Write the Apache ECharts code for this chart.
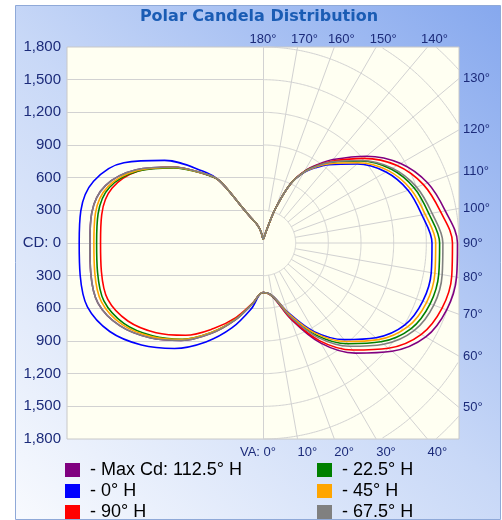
<!DOCTYPE html>
<html>
<head>
<meta charset="utf-8">
<title>Polar Candela Distribution</title>
<script src="https://cdn.jsdelivr.net/npm/echarts/dist/echarts.min.js"></script>
<style>
  html, body { margin: 0; padding: 0; background: #ffffff; }
  #main { width: 502px; height: 520px; }
</style>
</head>
<body>
<div id="main"></div>
<script>
// vertical angles (deg from nadir) the candela values are read at
const vAngles = [0, 10, 20, 30, 40, 50, 60, 70, 80, 90, 100, 110, 120, 130, 140, 145, 150, 155, 160, 165, 170, 175, 180];

// right half of each curve
const maxCdRight = [455, 500, 740, 1062, 1320, 1547, 1726, 1795, 1805, 1786, 1700, 1610, 1460, 1240, 1000, 880, 760, 600, 340, 110, 50, 38, 32];
const h0Right    = [455, 490, 681, 940, 1158, 1354, 1505, 1562, 1569, 1552, 1482, 1417, 1304, 1128, 940, 845, 745, 600, 340, 110, 50, 38, 32];
const h90Right   = [455, 498, 729, 1035, 1283, 1504, 1679, 1750, 1760, 1740, 1656, 1568, 1422, 1209, 980, 871, 756, 600, 340, 110, 50, 38, 32];
const h225Right  = [455, 495, 703, 977, 1208, 1412, 1571, 1633, 1639, 1622, 1547, 1478, 1358, 1172, 965, 862, 752, 600, 340, 110, 50, 38, 32];
const h45Right   = [455, 493, 692, 956, 1181, 1381, 1536, 1598, 1603, 1586, 1513, 1444, 1329, 1147, 950, 854, 749, 600, 340, 110, 50, 38, 32];
const h675Right  = [455, 495, 714, 998, 1238, 1446, 1605, 1669, 1671, 1652, 1576, 1501, 1372, 1178, 970, 867, 752, 600, 340, 110, 50, 38, 32];

// left half of each curve
const maxCdLeft = [455, 569, 753, 960, 1169, 1355, 1519, 1613, 1606, 1590, 1597, 1540, 1344, 1086, 829, 700, 370, 250, 200, 150, 100, 55, 32];
const h0Left    = [455, 612, 828, 1049, 1264, 1457, 1625, 1716, 1705, 1688, 1699, 1656, 1475, 1180, 864, 700, 370, 250, 200, 150, 100, 55, 32];
const h90Left   = [455, 563, 729, 907, 1106, 1282, 1433, 1517, 1507, 1492, 1504, 1474, 1322, 1080, 825, 700, 370, 250, 200, 150, 100, 55, 32];
const h225Left  = [455, 569, 749, 949, 1153, 1326, 1476, 1555, 1543, 1528, 1538, 1499, 1322, 1074, 825, 700, 370, 250, 200, 150, 100, 55, 32];
const h45Left   = [455, 569, 749, 949, 1157, 1338, 1495, 1579, 1569, 1553, 1563, 1515, 1332, 1080, 829, 700, 370, 250, 200, 150, 100, 55, 32];
const h675Left  = [455, 569, 753, 960, 1169, 1355, 1519, 1613, 1606, 1590, 1597, 1540, 1344, 1086, 829, 700, 370, 250, 200, 150, 100, 55, 32];

const seriesNames = ['Max Cd: 112.5° H', '0° H', '90° H', '22.5° H', '45° H', '67.5° H'];
const seriesColors = ['#800080', '#0000ff', '#ff0000', '#008000', '#ffa500', '#808080'];

const cdTicks = [-1800, -1500, -1200, -900, -600, -300, 0, 300, 600, 900, 1200, 1500, 1800];
const ringValues = [300, 600, 900, 1200, 1500, 1800, 2100, 2400];
const angleTicks = [0, 10, 20, 30, 40, 50, 60, 70, 80, 90, 100, 110, 120, 130, 140, 150, 160, 170, 180];

const LIM = 1800;
const rad = d => d * Math.PI / 180;

// polar (left/right half) -> x,y in candela units, nadir pointing down
function toPoints(left, right) {
  const pts = [];
  for (let i = vAngles.length - 1; i >= 0; i--) {
    const t = rad(vAngles[i]);
    pts.push([-left[i] * Math.sin(t), -left[i] * Math.cos(t)]);
  }
  for (let i = 1; i < vAngles.length; i++) {
    const t = rad(vAngles[i]);
    pts.push([right[i] * Math.sin(t), -right[i] * Math.cos(t)]);
  }
  return pts;
}

const curves = [
  toPoints(maxCdLeft, maxCdRight),
  toPoints(h0Left, h0Right),
  toPoints(h90Left, h90Right),
  toPoints(h225Left, h225Right),
  toPoints(h45Left, h45Right),
  toPoints(h675Left, h675Right)
];

const gridColor = '#d2d2d2';
const labelColor = '#1c2b7a';
const labelFont = '13px "Liberation Sans", Arial, sans-serif';

function crisp(v) { return Math.round(v - 0.5) + 0.5; }

function renderGrid(params, api) {
  const children = [];
  const lineStyle = { stroke: gridColor, lineWidth: 1, fill: null };

  // left half: horizontal lines
  cdTicks.forEach(v => {
    if (Math.abs(v) >= LIM) return;
    const a = api.coord([-LIM, v]), b = api.coord([0, v]);
    const y = crisp(a[1]);
    children.push({ type: 'line', shape: { x1: a[0], y1: y, x2: b[0], y2: y }, style: lineStyle });
  });

  // center vertical line
  const top = api.coord([0, LIM]), bot = api.coord([0, -LIM]);
  const cx = crisp(top[0]);
  children.push({ type: 'line', shape: { x1: cx, y1: top[1], x2: cx, y2: bot[1] }, style: lineStyle });

  // right half: rings, clipped to the plot square
  ringValues.forEach(R => {
    let seg = [];
    for (let d = 0; d <= 180.001; d += 0.5) {
      const x = R * Math.sin(rad(d)), y = -R * Math.cos(rad(d));
      if (Math.abs(x) <= LIM + 0.01 && Math.abs(y) <= LIM + 0.01) {
        seg.push(api.coord([x, y]));
      } else if (seg.length) {
        children.push({ type: 'polyline', shape: { points: seg }, style: lineStyle });
        seg = [];
      }
    }
    if (seg.length > 1) children.push({ type: 'polyline', shape: { points: seg }, style: lineStyle });
  });

  // right half: radial lines every 10 deg
  angleTicks.forEach(a => {
    if (a === 0 || a === 180) return;
    const s = Math.sin(rad(a)), c = Math.cos(rad(a));
    const d = Math.min(LIM / s, Math.abs(c) > 1e-9 ? LIM / Math.abs(c) : Infinity);
    const p0 = api.coord([300 * s, -300 * c]);
    const p1 = api.coord([d * s, -d * c]);
    children.push({ type: 'line', shape: { x1: p0[0], y1: p0[1], x2: p1[0], y2: p1[1] }, style: lineStyle });
  });

  // angle labels where the rays meet the border
  angleTicks.forEach(a => {
    const s = Math.sin(rad(a)), c = Math.cos(rad(a));
    const ds = s > 1e-9 ? LIM / s : Infinity;
    const dc = Math.abs(c) > 1e-9 ? LIM / Math.abs(c) : Infinity;
    const d = Math.min(ds, dc);
    const p = api.coord([d * s, -d * c]);
    let x, y, align, text = a + '°';
    if (a === 0) {
      text = 'VA: 0°'; align = 'right'; x = p[0] + 13; y = p[1] + 13;
    } else if (dc <= ds && c > 0) {
      align = 'left'; x = p[0]; y = p[1] + 13;
    } else if (ds < dc) {
      align = 'left'; x = p[0] + 4; y = p[1];
    } else {
      align = 'center'; x = p[0] + (a === 180 ? 0 : 7); y = p[1] - 8;
    }
    children.push({
      type: 'text', x: x, y: y,
      style: { text: text, fill: labelColor, font: labelFont, align: align, verticalAlign: 'middle' }
    });
  });

  return { type: 'group', children: children };
}

const chart = echarts.init(document.getElementById('main'));

const lineSeries = curves.map((pts, i) => ({
  name: seriesNames[i],
  type: 'line',
  data: pts,
  showSymbol: false,
  smooth: 0.35,
  color: seriesColors[i],
  lineStyle: { width: 1.6, color: seriesColors[i] },
  z: 3
}));

const legendBase = {
  orient: 'vertical',
  top: 461,
  height: 80,
  padding: 0,
  itemWidth: 15,
  itemHeight: 14,
  itemGap: 3,
  icon: 'rect',
  selectedMode: false,
  formatter: ' - {name}',
  textStyle: { fontFamily: '"Liberation Sans", Arial, sans-serif', fontSize: 18, lineHeight: 14, color: '#000000' }
};

const option = {
  animation: false,
  backgroundColor: '#ffffff',
  graphic: [{
    type: 'rect',
    z: -100,
    silent: true,
    shape: { x: 15.5, y: 5.5, width: 485, height: 514 },
    style: {
      fill: new echarts.graphic.LinearGradient(1, 0, 0, 1, [
        { offset: 0, color: '#86a8ee' },
        { offset: 0.5, color: '#c8d8f7' },
        { offset: 1, color: '#f8fafe' }
      ]),
      stroke: '#8fa9d8',
      lineWidth: 1
    }
  }],
  title: {
    text: 'Polar Candela Distribution',
    left: 259,
    top: 9,
    padding: 0,
    textAlign: 'center',
    textStyle: { fontFamily: '"DejaVu Sans", Verdana, sans-serif', fontWeight: 'bold', fontSize: 16, color: '#1a5cb4' }
  },
  legend: [
    Object.assign({}, legendBase, { left: 65, data: seriesNames.slice(0, 3) }),
    Object.assign({}, legendBase, { left: 317, data: seriesNames.slice(3) })
  ],
  grid: {
    left: 67, top: 47, width: 392, height: 392,
    show: true, backgroundColor: '#fffff2', borderColor: '#c8c8c8', borderWidth: 1
  },
  xAxis: {
    type: 'value', min: -LIM, max: LIM, interval: 300,
    show: false
  },
  yAxis: {
    type: 'value', min: -LIM, max: LIM, interval: 300,
    axisLine: { show: false },
    axisTick: { show: false },
    splitLine: { show: false },
    axisLabel: {
      margin: 6,
      fontFamily: '"Liberation Sans", Arial, sans-serif',
      fontSize: 15,
      color: labelColor,
      formatter: v => v === 0 ? 'CD: 0' : Math.abs(v).toLocaleString('en-US')
    }
  },
  series: [{
    type: 'custom',
    renderItem: renderGrid,
    data: [[0, 0]],
    silent: true,
    clip: false,
    z: 1
  }].concat(lineSeries)
};

chart.setOption(option);
</script>
</body>
</html>
